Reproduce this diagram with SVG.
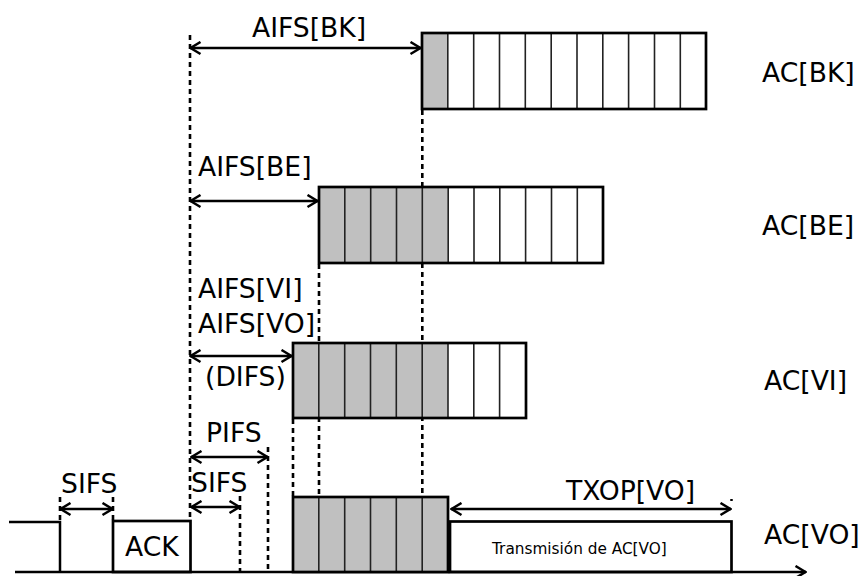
<svg xmlns="http://www.w3.org/2000/svg" width="861" height="576" viewBox="0 0 861 576">
<style>
text{font-family:"DejaVu Sans","Liberation Sans",sans-serif;font-size:26.6px;fill:#000}
.small{font-size:15.3px}
.dash{stroke:#000;stroke-width:2.6;stroke-dasharray:5 4;fill:none}
.arr{stroke:#000;stroke-width:2.5;fill:none;marker-start:url(#chev);marker-end:url(#chev)}
.line{stroke:#000;stroke-width:2.5;fill:none}
.box{fill:none;stroke:#000;stroke-width:2.7}
.cell{stroke:#222;stroke-width:1.6}
.gray{fill:#c0c0c0}
.white{fill:#fff}
</style>
<defs>
<marker id="chev" viewBox="0 0 13 15" refX="12" refY="7.5" markerWidth="13" markerHeight="15" markerUnits="userSpaceOnUse" orient="auto-start-reverse">
<path d="M1.5,1.5 L11.5,7.5 L1.5,13.5" fill="none" stroke="#000" stroke-width="2.5"/>
</marker>
</defs>
<g id="connectors">
<line class="dash" x1="190" y1="35" x2="190" y2="521"/>
<line class="dash" x1="422.3" y1="110" x2="422.3" y2="497"/>
<line class="dash" x1="319" y1="264" x2="319" y2="497"/>
<line class="dash" x1="293" y1="419" x2="293" y2="497"/>
<line class="dash" x1="60" y1="497" x2="60" y2="521"/>
<line class="dash" x1="113" y1="497" x2="113" y2="521"/>
<line class="dash" x1="240" y1="496" x2="240" y2="572"/>
<line class="dash" x1="268" y1="447" x2="268" y2="572"/>
<line class="line" x1="731.5" y1="499" x2="731.5" y2="501" stroke-width="1"/>
<line class="arr" x1="190" y1="48" x2="421" y2="48"/>
<line class="arr" x1="190" y1="201" x2="318" y2="201"/>
<line class="arr" x1="190" y1="356" x2="292" y2="356"/>
<line class="arr" x1="191" y1="457" x2="268" y2="457"/>
<line class="arr" x1="191" y1="507" x2="240" y2="507"/>
<line class="arr" x1="60" y1="509" x2="113" y2="509"/>
<line class="arr" x1="451" y1="509" x2="731" y2="509"/>
<line class="line" x1="15" y1="572" x2="806" y2="572" style="marker-end:url(#chev)"/>
<polyline class="line" points="9,522 60,522 60,572" stroke-width="2.7"/>
</g>
<g id="ac-bk">
<rect class="white" x="422" y="33" width="284" height="76"/>
<rect class="gray" x="422" y="33" width="25.8" height="76"/>
<path class="cell" d="M447.8,33V109M473.7,33V109M499.5,33V109M525.3,33V109M551.2,33V109M577,33V109M602.8,33V109M628.6,33V109M654.5,33V109M680.3,33V109"/>
<rect class="box" x="422" y="33" width="284" height="76"/>
<text x="762" y="82">AC[BK]</text>
<text x="252" y="37">AIFS[BK]</text>
</g>
<g id="ac-be">
<rect class="white" x="319" y="187" width="284" height="76"/>
<rect class="gray" x="319" y="187" width="129.2" height="76"/>
<path class="cell" d="M344.8,187V263M370.7,187V263M396.5,187V263M422.3,187V263M448.2,187V263M474,187V263M499.8,187V263M525.6,187V263M551.5,187V263M577.3,187V263"/>
<rect class="box" x="319" y="187" width="284" height="76"/>
<text x="762" y="235">AC[BE]</text>
<text x="198" y="176">AIFS[BE]</text>
</g>
<g id="ac-vi">
<rect class="white" x="293" y="343" width="233" height="75"/>
<rect class="gray" x="293" y="343" width="155" height="75"/>
<path class="cell" d="M318.8,343V418M344.7,343V418M370.5,343V418M396.3,343V418M422.2,343V418M448,343V418M473.8,343V418M499.6,343V418"/>
<rect class="box" x="293" y="343" width="233" height="75"/>
<text x="764" y="390">AC[VI]</text>
<text x="198" y="298">AIFS[VI]</text>
<text x="198" y="333">AIFS[VO]</text>
<text x="205" y="386">(DIFS)</text>
</g>
<g id="ac-vo">
<rect class="gray" x="293" y="497" width="155" height="75"/>
<path class="cell" d="M318.8,497V572M344.7,497V572M370.5,497V572M396.3,497V572M422.2,497V572"/>
<rect class="box" x="293" y="497" width="155" height="75"/>
<text x="764" y="544">AC[VO]</text>
</g>
<g id="transmision">
<rect class="box" x="450" y="521.5" width="281.5" height="50.5"/>
<text class="small" x="492" y="554">Transmisión de AC[VO]</text>
<text x="566" y="500">TXOP[VO]</text>
</g>
<g id="ack">
<rect class="box" x="113" y="521" width="77.5" height="51"/>
<text x="125" y="556">ACK</text>
</g>
<g id="labels">
<text x="206" y="442">PIFS</text>
<text x="191" y="492">SIFS</text>
<text x="61" y="493">SIFS</text>
</g>
</svg>
